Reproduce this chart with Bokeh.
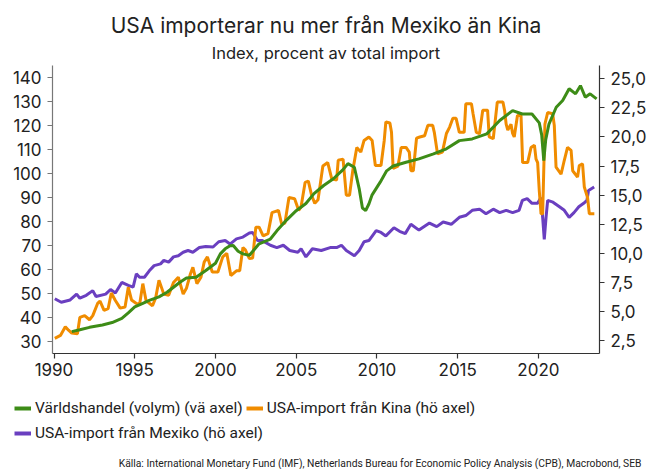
from bokeh.plotting import figure
from bokeh.layouts import column
from bokeh.models import (Range1d, LinearAxis, FixedTicker, CustomJSTickFormatter,
                          Legend, LegendItem, Title, Label)
from bokeh.embed import file_html
from bokeh.resources import INLINE

FONT = "Inter"
FONT2 = "Roboto"

title_text = "USA importerar nu mer från Mexiko än Kina"
subtitle_text = "Index, procent av total import"
source_text = ("Källa: International Monetary Fund (IMF), Netherlands Bureau for "
               "Economic Policy Analysis (CPB), Macrobond, SEB")
series_names = ["Världshandel (volym) (vä axel)",
                "USA-import från Kina (hö axel)",
                "USA-import från Mexiko (hö axel)"]

x_ticks = [1990, 1995, 2000, 2005, 2010, 2015, 2020]
left_ticks = [30, 40, 50, 60, 70, 80, 90, 100, 110, 120, 130, 140]
right_ticks = [2.5, 5.0, 7.5, 10.0, 12.5, 15.0, 17.5, 20.0, 22.5, 25.0]

# Världshandel (volym), index, left axis
world_year = [
    1991.1, 1991.6, 1992.2, 1993.0, 1993.6, 1994.2, 1994.6, 1995.0, 1995.5, 1995.9,
    1996.5, 1997.0, 1997.4, 1997.8, 1998.2, 1998.8, 1999.4, 2000.0, 2000.3, 2000.6,
    2000.9, 2001.1, 2001.4, 2001.7, 2002.1, 2002.7, 2003.4, 2003.8, 2004.4, 2005.0,
    2005.6, 2006.1, 2006.7, 2007.3, 2007.9, 2008.2, 2008.6, 2008.9, 2009.1, 2009.3,
    2009.5, 2009.7, 2010.2, 2010.6, 2011.0, 2011.8, 2012.6, 2013.5, 2014.3, 2015.1,
    2015.9, 2016.8, 2017.6, 2018.4, 2019.0, 2019.6, 2020.05, 2020.2, 2020.33, 2020.45,
    2020.65, 2021.1, 2021.5, 2021.9, 2022.3, 2022.6, 2022.9, 2023.2, 2023.6]
world_index = [
    34.0, 34.8, 35.8, 36.8, 37.8, 39.5, 41.8, 44.3, 45.8, 47.0,
    48.5, 50.4, 52.5, 54.6, 56.4, 56.7, 59.5, 62.5, 66.4, 68.5,
    69.8, 69.9, 67.5, 66.4, 65.8, 70.6, 72.6, 76.0, 80.5, 84.4,
    87.4, 91.5, 94.9, 97.7, 101.5, 104.0, 102.5, 93.5, 85.5, 84.5,
    87.2, 91.0, 96.3, 101.0, 103.0, 104.6, 106.0, 108.1, 110.2, 113.6,
    114.3, 116.4, 122.0, 126.1, 124.7, 124.7, 121.0, 116.0, 105.3, 114.0,
    120.5, 127.5, 130.3, 135.2, 133.1, 136.5, 131.7, 133.1, 131.0]

# USA-import från Kina, % of total import, right axis
china_year = [
    1990.05, 1990.4, 1990.7, 1990.9, 1991.1, 1991.45, 1991.6, 1991.9, 1992.2, 1992.4,
    1992.7, 1992.85, 1993.1, 1993.35, 1993.55, 1993.8, 1994.1, 1994.4, 1994.6, 1994.8,
    1995.1, 1995.3, 1995.5, 1995.7, 1996.1, 1996.3, 1996.5, 1996.8, 1997.1, 1997.4,
    1997.7, 1998.0, 1998.2, 1998.45, 1998.6, 1998.85, 1999.1, 1999.3, 1999.5, 1999.8,
    2000.15, 2000.45, 2000.7, 2000.95, 2001.3, 2001.5, 2001.7, 2001.85, 2002.1, 2002.3,
    2002.5, 2002.7, 2002.95, 2003.25, 2003.5, 2003.9, 2004.1, 2004.3, 2004.55, 2004.9,
    2005.15, 2005.3, 2005.55, 2005.75, 2005.95, 2006.15, 2006.35, 2006.65, 2006.95, 2007.2,
    2007.5, 2007.6, 2007.9, 2008.1, 2008.3, 2008.5, 2008.75, 2009.0, 2009.2, 2009.5,
    2009.7, 2009.9, 2010.25, 2010.45, 2010.55, 2010.8, 2010.9, 2011.0, 2011.3, 2011.5,
    2011.8, 2012.0, 2012.1, 2012.25, 2012.45, 2012.65, 2012.95, 2013.15, 2013.45, 2013.55,
    2013.75, 2014.05, 2014.3, 2014.5, 2014.7, 2014.9, 2015.1, 2015.4, 2015.5, 2015.85,
    2015.95, 2016.15, 2016.35, 2016.55, 2016.85, 2016.95, 2017.2, 2017.45, 2017.8, 2017.9,
    2018.0, 2018.1, 2018.3, 2018.4, 2018.5, 2018.7, 2018.92, 2019.02, 2019.33, 2019.54,
    2019.75, 2019.85, 2019.95, 2020.05, 2020.16, 2020.26, 2020.4, 2020.57, 2020.88, 2020.98,
    2021.09, 2021.4, 2021.6, 2021.8, 2022.02, 2022.12, 2022.42, 2022.53, 2022.73, 2022.84,
    2023.04, 2023.15, 2023.46]
china_share = [
    2.7, 2.95, 3.7, 3.4, 3.15, 3.1, 4.5, 4.65, 4.3, 4.65,
    5.7, 5.9, 5.1, 5.25, 6.6, 5.95, 5.3, 5.4, 7.1, 6.0,
    5.7, 5.6, 7.4, 5.95, 5.5, 6.2, 7.7, 6.5, 6.4, 7.5,
    7.95, 6.5, 7.0, 8.25, 8.8, 7.4, 7.95, 9.25, 9.7, 8.4,
    8.4, 9.7, 10.0, 8.1, 8.5, 8.5, 10.5, 10.3, 9.55, 9.6,
    12.25, 12.25, 11.5, 11.7, 13.5, 13.7, 12.5, 12.6, 14.8, 14.7,
    13.7, 14.0, 16.1, 16.2, 15.0, 14.3, 14.6, 17.5, 17.8, 16.4,
    16.3, 18.0, 18.1, 15.0, 15.0, 17.1, 19.1, 18.7, 19.7, 20.0,
    19.7, 17.55, 17.55, 19.7, 21.3, 21.2, 20.4, 17.3, 17.5, 19.1,
    19.1, 18.7, 17.1, 17.1, 19.9, 20.0, 20.1, 21.0, 21.0, 20.4,
    18.55, 18.7, 20.3, 20.85, 21.6, 21.6, 20.4, 20.4, 22.85, 22.85,
    22.0, 20.4, 20.3, 22.3, 22.3, 20.0, 19.85, 23.0, 23.0, 22.3,
    21.1, 20.6, 21.1, 20.3, 20.0, 21.85, 21.85, 17.8, 17.8, 19.1,
    19.3, 18.1, 17.8, 15.4, 13.4, 13.4, 21.1, 22.1, 22.0, 21.0,
    17.4, 16.8, 18.0, 19.1, 18.85, 17.1, 16.55, 17.55, 17.7, 15.7,
    14.8, 13.4, 13.4]

# USA-import från Mexiko, % of total import, right axis
mexico_year = [
    1990.05, 1990.45, 1991.0, 1991.4, 1991.6, 1992.0, 1992.4, 1992.6, 1993.2, 1993.5,
    1993.8, 1994.2, 1994.6, 1994.9, 1995.1, 1995.3, 1995.6, 1995.9, 1996.2, 1996.6,
    1996.8, 1997.1, 1997.4, 1997.7, 1998.0, 1998.3, 1998.6, 1999.0, 1999.4, 1999.85,
    2000.2, 2000.6, 2000.9, 2001.3, 2001.7, 2002.1, 2002.3, 2002.6, 2002.9, 2003.4,
    2003.8, 2004.2, 2004.6, 2005.1, 2005.3, 2005.6, 2006.0, 2006.55, 2007.1, 2007.5,
    2007.8, 2008.1, 2008.6, 2008.9, 2009.2, 2009.5, 2009.95, 2010.25, 2010.55, 2011.05,
    2011.4, 2011.75, 2012.1, 2012.6, 2013.25, 2013.7, 2014.1, 2014.6, 2015.1, 2015.5,
    2015.9, 2016.35, 2016.75, 2017.2, 2017.6, 2018.0, 2018.4, 2018.8, 2019.0, 2019.3,
    2019.6, 2019.95, 2020.15, 2020.26, 2020.36, 2020.47, 2020.57, 2020.9, 2021.3, 2021.6,
    2021.9, 2022.2, 2022.5, 2022.8, 2023.0, 2023.1, 2023.45]
mexico_share = [
    6.1, 5.8, 6.0, 6.5, 6.15, 6.4, 6.8, 6.3, 6.5, 6.9,
    6.6, 7.5, 7.25, 7.1, 8.25, 7.95, 7.95, 8.5, 8.95, 9.1,
    9.4, 9.25, 9.7, 9.8, 10.1, 10.25, 10.1, 10.5, 10.6, 10.55,
    11.0, 11.1, 10.8, 11.25, 11.4, 11.75, 11.8, 11.1, 11.1, 10.7,
    10.5, 10.7, 10.25, 10.1, 10.4, 9.7, 10.4, 10.25, 10.5, 10.5,
    10.7, 10.25, 9.8, 10.25, 11.0, 11.1, 11.95, 11.8, 11.5, 12.2,
    11.9, 11.7, 12.5, 12.0, 12.6, 12.3, 12.7, 12.5, 13.1, 13.25,
    13.7, 13.8, 13.4, 13.8, 13.5, 13.7, 13.5, 13.7, 14.55, 14.7,
    14.3, 14.3, 14.8, 13.1, 11.2, 13.1, 14.55, 14.4, 14.0, 13.7,
    13.1, 13.5, 14.0, 14.3, 14.55, 15.4, 15.7]

assert len(world_year) == len(world_index)
assert len(china_year) == len(china_share)
assert len(mexico_year) == len(mexico_share)

GREEN = "#3d8c17"
ORANGE = "#f08c00"
PURPLE = "#6a3fc0"
TEXT = "#222222"

W = 649
H_MAIN = 384
H_LEG = 469 - H_MAIN

# ---------------- main chart ----------------
p = figure(width=W, height=H_MAIN, output_backend="svg", toolbar_location=None,
           title=None,
           x_range=Range1d(1989.907, 2023.78), y_range=Range1d(24.9, 144.9),
           min_border_left=52, min_border_right=49, min_border_top=65,
           min_border_bottom=31)
p.frame_align = False
p.extra_y_ranges = {"right": Range1d(1.40, 26.14)}
p.grid.visible = False
p.outline_line_color = None
p.background_fill_color = "white"
p.border_fill_color = "white"

r_axis = LinearAxis(y_range_name="right")
p.add_layout(r_axis, "right")

p.xaxis[0].ticker = FixedTicker(ticks=x_ticks)
p.yaxis[0].ticker = FixedTicker(ticks=left_ticks)
r_axis.ticker = FixedTicker(ticks=right_ticks)
r_axis.formatter = CustomJSTickFormatter(code="return tick.toFixed(1).replace('.', ',');")

for ax in (p.xaxis[0], p.yaxis[0], r_axis):
    ax.major_label_text_font = FONT
    ax.major_label_text_font_size = "17px"
    ax.major_label_text_color = TEXT
    ax.major_tick_out = 5
    ax.major_tick_in = 0
    ax.minor_tick_out = 0
    ax.minor_tick_in = 0
    ax.axis_line_width = 1.2
    ax.major_tick_line_width = 1.2
    ax.major_label_standoff = 6
p.yaxis[0].axis_line_color = "#777777"
p.yaxis[0].major_tick_line_color = "#777777"
p.xaxis[0].axis_line_color = "#333333"
p.xaxis[0].major_tick_line_color = "#333333"
p.xaxis[0].major_label_standoff = 4
r_axis.axis_line_color = "#333333"
r_axis.major_tick_line_color = "#333333"

r_mex = p.line(mexico_year, mexico_share, y_range_name="right",
               line_color=PURPLE, line_width=3)
r_china = p.line(china_year, china_share, y_range_name="right",
                 line_color=ORANGE, line_width=3)
r_world = p.line(world_year, world_index, line_color=GREEN, line_width=3)

p.add_layout(Title(text=subtitle_text, align="center", text_font=FONT,
                   text_font_size="16.5px", text_font_style="normal",
                   text_color=TEXT, standoff=6), "above")
p.add_layout(Title(text=title_text, align="center", text_font=FONT,
                   text_font_size="21px", text_font_style="normal",
                   text_color=TEXT, standoff=0), "above")

# ---------------- legend + source strip ----------------
q = figure(width=W, height=H_LEG, output_backend="svg", toolbar_location=None,
           title=None, x_axis_location=None, y_axis_location=None,
           x_range=Range1d(0, 1), y_range=Range1d(0, 1),
           min_border_left=0, min_border_right=0, min_border_top=0,
           min_border_bottom=0)
q.frame_align = False
q.grid.visible = False
q.outline_line_color = None
q.background_fill_color = "white"
q.border_fill_color = "white"

# legend keys: the same series, drawn outside this strip's (0..1) view,
# so only their legend swatches are visible
k_world = q.line(world_year, world_index, line_color=GREEN, line_width=4)
k_china = q.line(china_year, china_share, line_color=ORANGE, line_width=4)
k_mex = q.line(mexico_year, mexico_share, line_color=PURPLE, line_width=4)

def make_legend(items, loc):
    return Legend(items=items, orientation="horizontal", location=loc,
                  label_text_font=FONT2, label_text_font_size="15.5px",
                  label_text_color=TEXT, glyph_width=17, glyph_height=18,
                  label_height=18, label_standoff=4, spacing=3, padding=0,
                  margin=0, border_line_color=None, background_fill_alpha=0)

leg1 = make_legend([LegendItem(label=series_names[0], renderers=[k_world]),
                    LegendItem(label=series_names[1], renderers=[k_china])],
                   (14, H_LEG - 33))
leg2 = make_legend([LegendItem(label=series_names[2], renderers=[k_mex])],
                   (14, H_LEG - 58))
q.add_layout(leg1, "center")
q.add_layout(leg2, "center")

q.add_layout(Label(x=641, y=H_LEG - 79, x_units="screen", y_units="screen",
                   text=source_text, text_font=FONT2, text_font_size="10.3px",
                   text_color=TEXT, text_align="right", text_baseline="middle"))

layout = column(p, q, spacing=0)
open("out.html", "w").write(file_html(layout, INLINE))
